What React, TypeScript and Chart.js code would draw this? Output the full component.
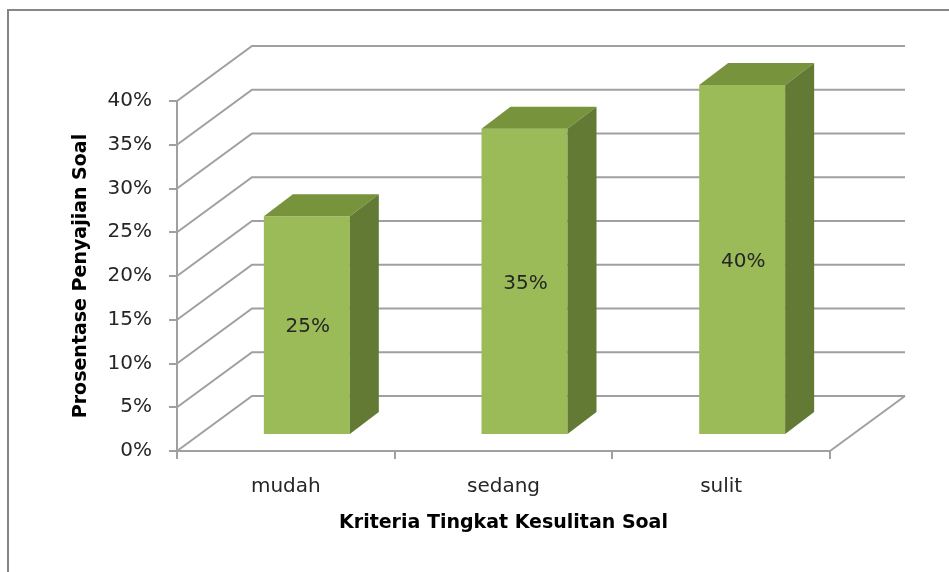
import React, { useEffect, useRef } from "react";
import { Chart, registerables } from "chart.js";

Chart.register(...registerables);

const categories = ["mudah", "sedang", "sulit"];
const values = [25, 35, 40];
const yMin = 0;
const yMax = 40;
const yStep = 5;
const xTitle = "Kriteria Tingkat Kesulitan Soal";
const yTitle = "Prosentase Penyajian Soal";

const FRONT = "#9BBB59";
const TOP = "#77933C";
const SIDE = "#637A34";
const GRID = "#A0A0A0";
const FRAME = "#868686";
const TEXT = "#262626";

// 3D projection offsets (pixels)
const WALL = { dx: 75, dy: -55 };
const BAR_SHIFT = { dx: 21, dy: -16 };
const BAR_DEPTH = { dx: 29, dy: -22 };

const threeD = {
  id: "threeD",
  beforeDraw(chart: any) {
    const ctx = chart.ctx;
    ctx.save();
    ctx.strokeStyle = FRAME;
    ctx.lineWidth = 2;
    ctx.beginPath();
    ctx.moveTo(8, chart.height);
    ctx.lineTo(8, 10);
    ctx.lineTo(chart.width, 10);
    ctx.stroke();
    ctx.restore();
  },
  beforeDatasetsDraw(chart: any) {
    const ctx = chart.ctx;
    const y = chart.scales.y;
    const { left, right } = chart.chartArea;
    ctx.save();
    ctx.strokeStyle = GRID;
    ctx.lineWidth = 2;
    ctx.beginPath();
    for (let v = yMin; v <= yMax; v += yStep) {
      const py = y.getPixelForValue(v);
      ctx.moveTo(left, py);
      ctx.lineTo(left + WALL.dx, py + WALL.dy);
      ctx.lineTo(right + WALL.dx, py + WALL.dy);
    }
    const p0 = y.getPixelForValue(yMin);
    ctx.moveTo(right, p0);
    ctx.lineTo(right + WALL.dx, p0 + WALL.dy);
    ctx.stroke();
    ctx.restore();
    ctx.save();
    ctx.translate(BAR_SHIFT.dx, BAR_SHIFT.dy);
  },
  afterDatasetsDraw(chart: any) {
    const ctx = chart.ctx;
    ctx.restore();
    const meta = chart.getDatasetMeta(0);
    ctx.save();
    ctx.translate(BAR_SHIFT.dx, BAR_SHIFT.dy);
    meta.data.forEach((bar: any, i: number) => {
      const { x, y, width, base } = bar.getProps(["x", "y", "width", "base"], true);
      const l = x - width / 2;
      const r = x + width / 2;
      ctx.fillStyle = TOP;
      ctx.beginPath();
      ctx.moveTo(l, y);
      ctx.lineTo(r, y);
      ctx.lineTo(r + BAR_DEPTH.dx, y + BAR_DEPTH.dy);
      ctx.lineTo(l + BAR_DEPTH.dx, y + BAR_DEPTH.dy);
      ctx.closePath();
      ctx.fill();
      ctx.fillStyle = SIDE;
      ctx.beginPath();
      ctx.moveTo(r, y);
      ctx.lineTo(r + BAR_DEPTH.dx, y + BAR_DEPTH.dy);
      ctx.lineTo(r + BAR_DEPTH.dx, base + BAR_DEPTH.dy);
      ctx.lineTo(r, base);
      ctx.closePath();
      ctx.fill();
      ctx.fillStyle = TEXT;
      ctx.font = "20px 'DejaVu Sans'";
      ctx.textAlign = "center";
      ctx.textBaseline = "middle";
      ctx.fillText(values[i] + "%", x + 1, (y + base) / 2 + 2);
    });
    ctx.restore();
  },
};

export default function App() {
  const ref = useRef<HTMLCanvasElement | null>(null);
  useEffect(() => {
    if (!ref.current) return;
    const chart = new Chart(ref.current, {
      type: "bar",
      data: {
        labels: categories,
        datasets: [
          {
            data: values,
            backgroundColor: FRONT,
            borderWidth: 0,
            barPercentage: 0.395,
            categoryPercentage: 1,
          },
        ],
      },
      options: {
        animation: false,
        responsive: false,
        events: [],
        layout: { padding: { left: 0, top: 101, right: 119, bottom: 0 } },
        plugins: { legend: { display: false }, tooltip: { enabled: false } },
        scales: {
          x: {
            afterFit(scale: any) {
              scale.height = 121;
            },
            grid: { drawOnChartArea: false, color: GRID, lineWidth: 2, tickLength: 8 },
            border: { color: GRID, width: 2 },
            ticks: { color: TEXT, font: { family: "DejaVu Sans", size: 20 }, padding: 16 },
            title: {
              display: true,
              text: xTitle,
              color: "#000",
              font: { family: "DejaVu Sans", size: 19, weight: "bold" },
              padding: { top: 0, bottom: 38 },
            },
          },
          y: {
            min: yMin,
            max: yMax,
            afterFit(scale: any) {
              scale.width = 177;
            },
            grid: { drawOnChartArea: false, color: GRID, lineWidth: 2, tickLength: 8 },
            border: { color: GRID, width: 2 },
            ticks: {
              stepSize: yStep,
              color: TEXT,
              font: { family: "DejaVu Sans", size: 20 },
              padding: 17,
              callback: (v: any) => v + "%",
            },
            title: {
              display: true,
              text: yTitle,
              color: "#000",
              font: { family: "DejaVu Sans", size: 19, weight: "bold" },
              padding: { top: 70, bottom: 0 },
            },
          },
        },
      },
      plugins: [threeD],
    });
    return () => chart.destroy();
  }, []);
  return (
    <div style={{ position: "fixed", left: 0, top: 0, width: 949, height: 572, background: "#fff" }}>
      <canvas ref={ref} width={949} height={572} />
    </div>
  );
}
